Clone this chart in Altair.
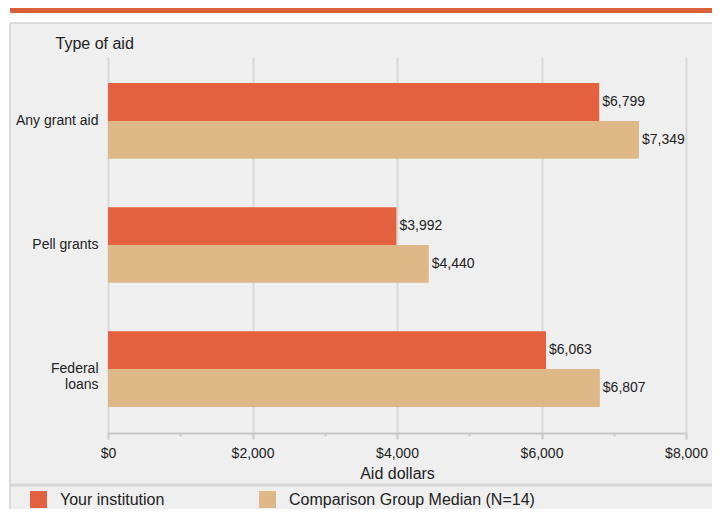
import altair as alt
import pandas as pd

categories = ["Any grant aid", "Pell grants", "Federal loans"]
series = ["Your institution", "Comparison Group Median (N=14)"]
your_institution = [6799, 3992, 6063]
comparison_median = [7349, 4440, 6807]
x_ticks = [0, 1000, 2000, 3000, 4000, 5000, 6000, 7000, 8000]

ORANGE = "#E4613F"
TAN = "#DEB887"
STRIPE = "#D9623B"
BG = "#EFEFEF"
FONT = "Liberation Sans"
TXT = "#222222"

rows = []
for c, a, b in zip(categories, your_institution, comparison_median):
    rows.append({"category": c, "series": series[0], "value": a})
    rows.append({"category": c, "series": series[1], "value": b})
df = pd.DataFrame(rows)

W, H = 578, 376
PL, PT, PR, PB = 100, 49, 26, 76

xscale = alt.Scale(domain=[0, 8000], nice=False)
yscale = alt.Scale(domain=categories, paddingInner=0.39, paddingOuter=0.21)

even = "datum.value % 2000 === 0"

bars = alt.Chart(df).mark_bar().encode(
    x=alt.X("value:Q", scale=xscale,
            axis=alt.Axis(values=x_ticks, format="$,.0f", title="Aid dollars",
                          grid=True, gridColor="#D9D9D9", gridWidth=2,
                          gridOpacity={"condition": {"test": even, "value": 1}, "value": 0},
                          labelOpacity={"condition": {"test": even, "value": 1}, "value": 0},
                          tickSize={"condition": {"test": even, "value": 6}, "value": 3},
                          tickColor="#C8C8C8", tickWidth=2,
                          domainColor="#C8C8C8", domainWidth=2,
                          labelFont=FONT, labelFontSize=14, labelColor=TXT,
                          labelPadding=7, labelOverlap=False, labelFlush=False,
                          titleFont=FONT, titleFontSize=16, titleFontWeight="normal",
                          titleColor=TXT, titlePadding=5)),
    y=alt.Y("category:N", scale=yscale, sort=categories,
            axis=alt.Axis(title="Type of aid", titleAngle=0, titleAlign="left",
                          titleBaseline="middle", titleX=-53, titleY=-14,
                          titleFont=FONT, titleFontSize=16, titleFontWeight="normal",
                          titleColor=TXT, domain=False, ticks=False, tickSize=0,
                          labelPadding=10, labelFont=FONT, labelFontSize=14,
                          labelColor=TXT, labelLineHeight=16,
                          labelExpr="datum.value == 'Federal loans' ? ['Federal', 'loans'] : datum.label")),
    yOffset=alt.YOffset("series:N", sort=series, scale=alt.Scale(domain=series, paddingInner=0, paddingOuter=0)),
    color=alt.Color("series:N", sort=series,
                    scale=alt.Scale(domain=series, range=[ORANGE, TAN]),
                    legend=alt.Legend(orient="none", legendX=-78, legendY=434,
                                      direction="horizontal", title=None,
                                      symbolType="square", symbolSize=289,
                                      symbolStrokeWidth=0, symbolOpacity=1,
                                      labelFont=FONT, labelFontSize=16, labelColor=TXT,
                                      labelOffset=13, columnPadding=94, labelLimit=400,
                                      padding=0)),
)

labels = alt.Chart(df).mark_text(align="left", baseline="middle", dx=3,
                                 font=FONT, fontSize=14, color=TXT).encode(
    x=alt.X("value:Q", scale=xscale),
    y=alt.Y("category:N", scale=yscale, sort=categories),
    yOffset=alt.YOffset("series:N", sort=series, scale=alt.Scale(domain=series, paddingInner=0, paddingOuter=0)),
    text=alt.Text("value:Q", format="$,.0f"),
)

one = alt.Data(values=[{}])
deco_white_top = alt.Chart(one).mark_rect(color="white").encode(
    x=alt.value(-PL), x2=alt.value(W + PR), y=alt.value(-PT), y2=alt.value(-34))
deco_white_left = alt.Chart(one).mark_rect(color="white").encode(
    x=alt.value(-PL), x2=alt.value(-98.5), y=alt.value(-PT), y2=alt.value(H + PB))
deco_stripe = alt.Chart(one).mark_rect(color=STRIPE).encode(
    x=alt.value(-98), x2=alt.value(W + PR), y=alt.value(-PT), y2=alt.value(-44))
deco_top_border = alt.Chart(one).mark_rule(color="#D0D0D0", strokeWidth=1.5).encode(
    x=alt.value(-98), x2=alt.value(W + PR), y=alt.value(-34))
deco_left_border = alt.Chart(one).mark_rule(color="#D0D0D0", strokeWidth=1.5).encode(
    x=alt.value(-98), y=alt.value(-34), y2=alt.value(H + PB))
deco_sep = alt.Chart(one).mark_rule(color="#D6D6D6", strokeWidth=3).encode(
    x=alt.value(-98), x2=alt.value(W + PR), y=alt.value(428))

chart = alt.layer(
    deco_white_top, deco_white_left, deco_stripe, deco_top_border,
    deco_left_border, deco_sep, bars, labels
).properties(
    width=W, height=H,
    padding={"left": PL, "top": PT, "right": PR, "bottom": PB},
    autosize=alt.AutoSizeParams(type="none"),
    background=BG,
).configure_view(stroke=None, fill=None)

chart.save("out.html", embed_options={"renderer": "svg", "actions": False})
